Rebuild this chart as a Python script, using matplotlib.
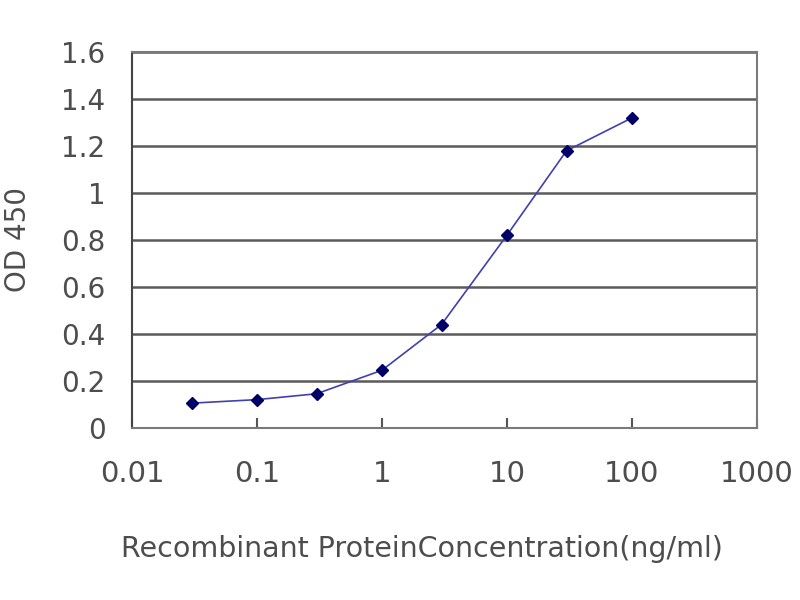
import matplotlib
matplotlib.use('Agg')
import matplotlib.pyplot as plt

plt.rcParams['font.family'] = ['DejaVu Sans']

# données
conc = [0.03, 0.1, 0.3, 1, 3, 10, 30, 100]
od = [0.105, 0.12, 0.145, 0.245, 0.44, 0.82, 1.18, 1.32]
y_ticks = [0, 0.2, 0.4, 0.6, 0.8, 1, 1.2, 1.4, 1.6]
y_labels = ['0', '0.2', '0.4', '0.6', '0.8', '1', '1.2', '1.4', '1.6']
x_ticks = [0.01, 0.1, 1, 10, 100, 1000]
x_labels = ['0.01', '0.1', '1', '10', '100', '1000']

fig = plt.figure(figsize=(8, 6), dpi=100)
ax = fig.add_axes([0.165, 0.287, 0.781, 0.626])

ax.plot(conc, od, color='#4040b0', lw=1.2, marker='D', markersize=6,
        markerfacecolor='#000066', markeredgecolor='#000066')

ax.set_xscale('log')
ax.set_xlim(0.01, 1000)
ax.set_ylim(0, 1.6)
ax.set_yticks(y_ticks)
ax.set_yticklabels(y_labels)
ax.set_xticks(x_ticks)
ax.set_xticklabels(x_labels)
ax.minorticks_off()

for v in y_ticks[1:]:
    ax.axhline(v, color='#5a5a5a', lw=1.8, zorder=0)

for s in ax.spines.values():
    s.set_color('#7a7a7a')
    s.set_linewidth(1.5)
ax.spines['left'].set_color('#444444')

ax.tick_params(axis='x', direction='in', length=7, width=1.5, color='#555555',
               pad=23, labelsize=21, labelcolor='#4d4d4d')
ax.tick_params(axis='y', length=0, pad=19, labelsize=20, labelcolor='#4d4d4d')

ax.set_xlabel('Recombinant ProteinConcentration(ng/ml)', fontsize=20.5,
              color='#4d4d4d')
ax.xaxis.set_label_coords(0.464, -0.285)
ax.set_ylabel('OD 450', fontsize=20, color='#4d4d4d', va='center')
ax.yaxis.set_label_coords(-0.182, 0.5)

fig.savefig('out.png')
